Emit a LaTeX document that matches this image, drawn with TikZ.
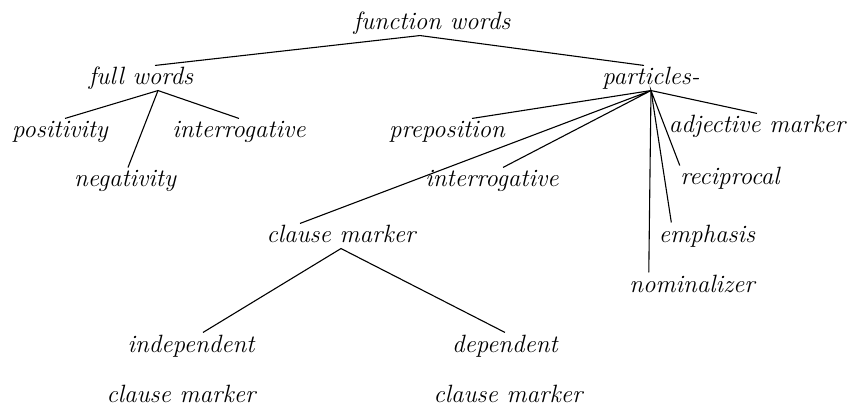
\documentclass[tikz,border=0pt]{standalone}
\usepackage{amsmath,amssymb}
\usepackage{tikz}

\begin{document}
\begin{tikzpicture}[x=1pt,y=-1pt,
	every node/.style={font=\fontsize{25}{29}\selectfont\itshape,anchor=base,inner sep=2pt,text height=17pt,text depth=3pt},
	every path/.style={line width=1.1pt}]
	\useasboundingbox (0,0) rectangle (852,409);
	% top level
	\node (fw) at (432,30) {function words};
	\node (fullw) at (141,85) {full words};
	\node (part) at (651,85) {particles-};
	% under full words
	\node (pos) at (60,138) {positivity};
	\node (neg) at (125,187) {negativity};
	\node (intl) at (239,138) {interrogative};
	% under particles
	\node (prep) at (447,138) {preposition};
	\node (intr) at (492,187) {interrogative};
	\node (adj) at (757,133) {adjective marker};
	\node (rec) at (730,185) {reciprocal};
	\node (emph) at (707,242) {emphasis};
	\node (nom) at (692,292) {nominalizer};
	\node (cm) at (341,243) {clause marker};
	\node (ind) at (191,352) {independent};
	\node (dep) at (505,352) {dependent};
	\node (indcm) at (181,402) {clause marker};
	\node (depcm) at (508,402) {clause marker};
	\draw ([xshift=14pt]fullw.north) -- ([xshift=-12pt]fw.south) -- ([xshift=-7pt]part.north);
	\draw (pos.north) ++(5,0) -- ([xshift=17pt]fullw.south) -- (intl.north);
	\draw ([xshift=17pt]fullw.south) -- ([xshift=3pt]neg.north);
	\draw ([xshift=25pt]prep.north) -- (part.south) -- (adj.north);
	\draw ([xshift=-41pt]cm.north) -- (part.south) -- ([xshift=11pt]intr.north);
	\draw ([xshift=2pt]rec.north west) -- (part.south) -- ([xshift=15pt]emph.north west);
	\draw ([xshift=22pt]nom.north west) -- (part.south);
	\draw ([xshift=12pt]ind.north) -- (cm.south) -- (dep.north);
\end{tikzpicture}
\end{document}
